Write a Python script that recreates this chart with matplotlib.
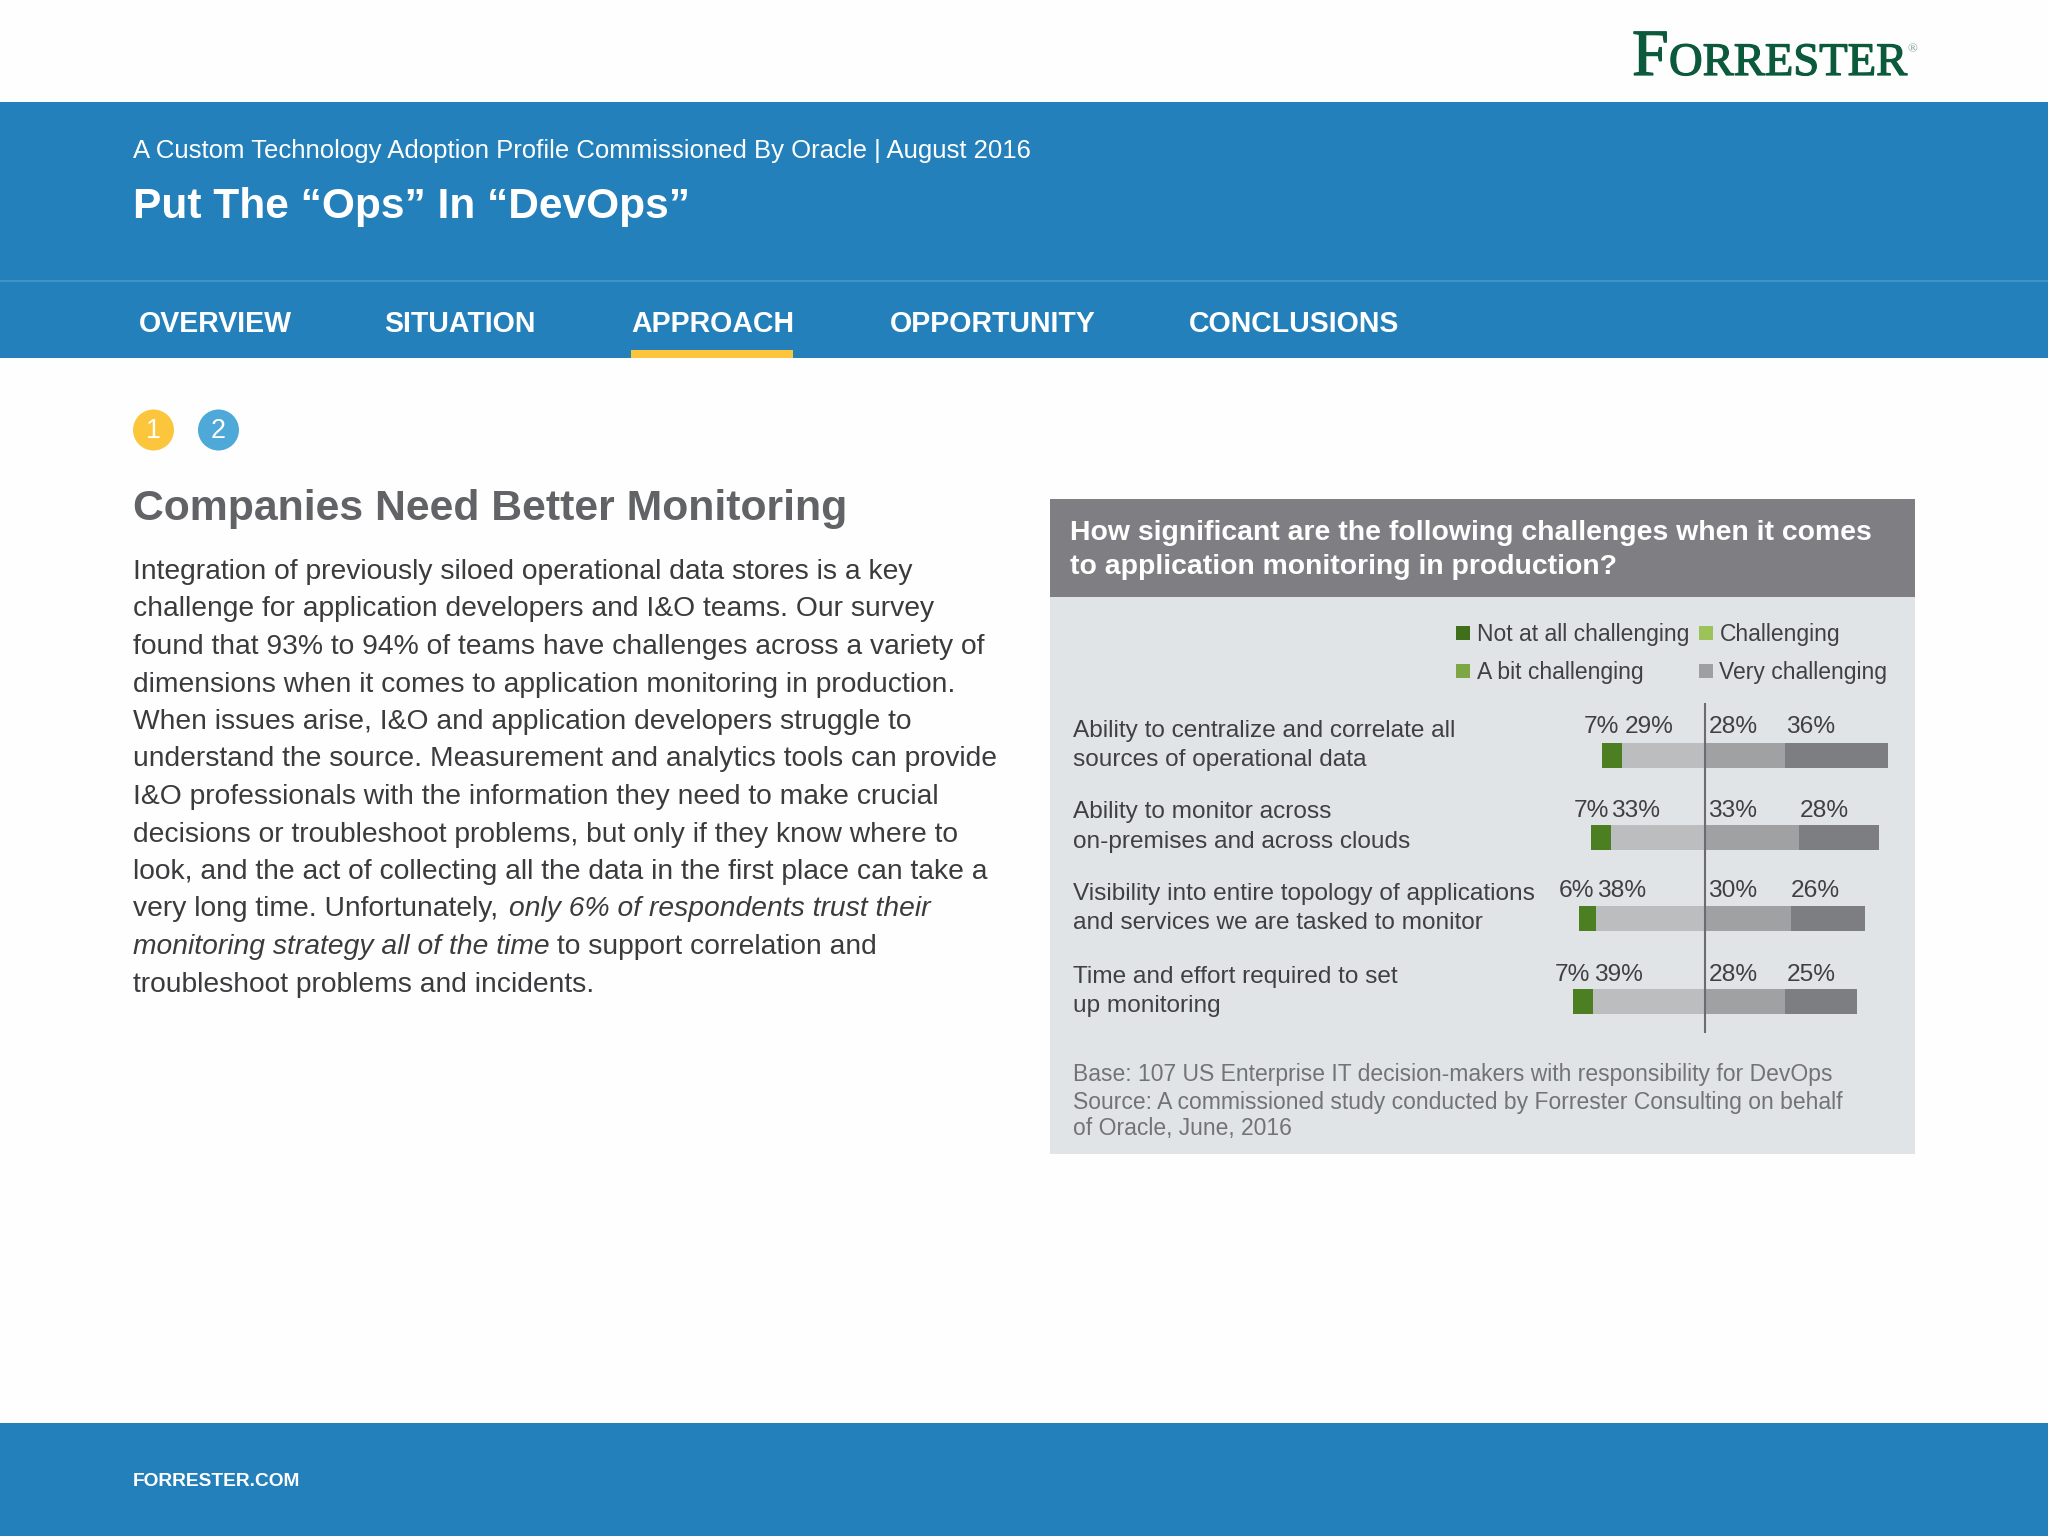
import matplotlib
matplotlib.use("Agg")
import matplotlib.pyplot as plt
import matplotlib.patheffects as pe
from matplotlib.patches import Rectangle, Circle, Patch

plt.rcParams['font.family'] = ['Liberation Sans', 'DejaVu Sans']

W, H = 2048, 1536

# chart data
categories = [
    "Ability to centralize and correlate all\nsources of operational data",
    "Ability to monitor across\non-premises and across clouds",
    "Visibility into entire topology of applications\nand services we are tasked to monitor",
    "Time and effort required to set\nup monitoring",
]
not_at_all = [7, 7, 6, 7]
a_bit = [29, 33, 38, 39]
challenging = [28, 33, 30, 28]
very = [36, 28, 26, 25]
legend_labels = ["Not at all challenging", "A bit challenging", "Challenging", "Very challenging"]

nav_items = ["OVERVIEW", "SITUATION", "APPROACH", "OPPORTUNITY", "CONCLUSIONS"]
body_lines = [
    "Integration of previously siloed operational data stores is a key",
    "challenge for application developers and I&O teams. Our survey",
    "found that 93% to 94% of teams have challenges across a variety of",
    "dimensions when it comes to application monitoring in production.",
    "When issues arise, I&O and application developers struggle to",
    "understand the source. Measurement and analytics tools can provide",
    "I&O professionals with the information they need to make crucial",
    "decisions or troubleshoot problems, but only if they know where to",
    "look, and the act of collecting all the data in the first place can take a",
]
footnote = [
    "Base: 107 US Enterprise IT decision-makers with responsibility for DevOps",
    "Source: A commissioned study conducted by Forrester Consulting on behalf",
    "of Oracle, June, 2016",
]

# label placement, hand set in the original (pixels)
nav_x = [139, 384, 631, 890, 1189]
row_y = [755, 837, 918, 1001]
label_y = [727, 811, 891, 975]
cat_y = [[731, 760], [812, 842], [894, 923], [977, 1006]]
label_x = [
    [1601, 1649, 1733, 1811],
    [1591, 1636, 1733, 1824],
    [1576, 1622, 1733, 1815],
    [1572, 1618, 1733, 1811],
]

BLUE = "#2380ba"
fig = plt.figure(figsize=(W / 100, H / 100), dpi=100, facecolor="#fefefe")

# page layer in pixel coordinates
page = fig.add_axes([0, 0, 1, 1])
page.set_xlim(0, W)
page.set_ylim(H, 0)
page.axis("off")


def rect(x0, y0, x1, y1, color, z=1):
    page.add_patch(Rectangle((x0, y0), x1 - x0, y1 - y0, fc=color, ec="none", zorder=z))


def txt(x, y, s, px, color="white", weight="normal", style="normal", ha="left", va="center", family=None):
    return page.text(x, y, s, fontsize=px * 0.72, color=color, weight=weight, style=style,
                     ha=ha, va=va, family=family, zorder=5)


rect(0, 102, W, 358, BLUE)
rect(0, 280, W, 281.5, "#3f93c9", 2)
rect(0, 1423, W, H, BLUE)

# logo
logo_green = "#0b5a3c"
serif = ["Liberation Serif", "DejaVu Serif"]
thicken = [pe.withStroke(linewidth=0.9, foreground=logo_green)]
txt(1632, 75, "F", 66, logo_green, va="baseline", family=serif).set_path_effects(thicken)
txt(1669, 75, "ORRESTER", 46.6, logo_green, va="baseline", family=serif).set_path_effects(thicken)
txt(1908, 49, "®", 13, "#7fa090", va="center", family=serif)

txt(133, 151, "A Custom Technology Adoption Profile Commissioned By Oracle | August 2016", 25.8)
txt(133, 207, "Put The “Ops” In “DevOps”", 42.5, weight="bold")

for x, s in zip(nav_x, nav_items):
    txt(x, 324, s, 28.5, weight="bold")
rect(631, 350, 793, 358, "#fdc53b", 3)

page.add_patch(Circle((153.5, 430), 20.5, fc="#fcc63c", ec="none"))
page.add_patch(Circle((218.5, 430), 20.5, fc="#4fa9d8", ec="none"))
txt(153.5, 431, "1", 27, ha="center")
txt(218.5, 431, "2", 27, ha="center")

txt(133, 509, "Companies Need Better Monitoring", 42.7, "#626366", weight="bold")

# body copy
BODY = "#3b3b3d"
base0 = 579
lead = 37.5
for i, line in enumerate(body_lines):
    txt(133, base0 + i * lead, line, 28.2, BODY, va="baseline")
txt(133, base0 + 9 * lead, "very long time. Unfortunately, ", 28.2, BODY, va="baseline")
txt(509, base0 + 9 * lead, "only 6% of respondents trust their", 28.2, BODY, style="italic", va="baseline")
txt(133, base0 + 10 * lead, "monitoring strategy all of the time", 28.2, BODY, style="italic", va="baseline")
txt(557, base0 + 10 * lead, "to support correlation and", 28.2, BODY, va="baseline")
txt(133, base0 + 11 * lead, "troubleshoot problems and incidents.", 28.2, BODY, va="baseline")

# survey panel
rect(1050, 499, 1915, 1154, "#e0e4e6")
rect(1050, 499, 1915, 597, "#7f7e82", 2)
txt(1070, 533, "How significant are the following challenges when it comes", 28.35, weight="bold")
txt(1070, 567, "to application monitoring in production?", 28.35, weight="bold")

for (y0, y1), cat in zip(cat_y, categories):
    l0, l1 = cat.split("\n")
    txt(1073, y0, l0, 24.4, "#404042")
    txt(1073, y1, l1, 24.4, "#404042")

for i, row in enumerate(label_x):
    vals = [not_at_all[i], a_bit[i], challenging[i], very[i]]
    for x, v in zip(row, vals):
        txt(x, label_y[i], f"{v}%", 24.5, "#404042", ha="center")

for i, line in enumerate(footnote):
    txt(1073, [1075, 1102, 1129][i], line, 22.9, "#727376")

# diverging bars, x in percent, zero at pixel 1705, 2.86 px per percent
zero_px, px_per = 1705, 2.86
left_px, right_px = 1560, 1900
bars = fig.add_axes([left_px / W, 1 - 1033 / H, (right_px - left_px) / W, (1033 - 703) / H])
bars.patch.set_alpha(0)
bars.set_xlim((left_px - zero_px) / px_per, (right_px - zero_px) / px_per)
bars.set_ylim(1033, 703)
bars.axis("off")

neg_start = [-(n + b) for n, b in zip(not_at_all, a_bit)]
neg_mid = [-b for b in a_bit]
bars.barh(row_y, not_at_all, left=neg_start, height=25, color="#4b7f21")
bars.barh(row_y, a_bit, left=neg_mid, height=25, color="#bcbdbf")
bars.barh(row_y, challenging, left=0, height=25, color="#9fa1a3")
bars.barh(row_y, very, left=challenging, height=25, color="#7d7e82")
bars.axvline(0, color="#6b6c70", lw=1.5)

handles = [Patch(fc=c, ec="none") for c in ["#3f6f1b", "#7fa644", "#9cc25a", "#9d9fa2"]]
fig.legend(handles, legend_labels, ncol=2, loc="upper left", frameon=False,
           bbox_to_anchor=(1456 / W, 1 - 623 / H), bbox_transform=fig.transFigure,
           fontsize=22.9 * 0.72, labelcolor="#404042", borderaxespad=0, borderpad=0,
           handlelength=0.6, handleheight=0.6, handletextpad=0.3,
           columnspacing=0.43, labelspacing=0.65)

# footer
txt(133, 1481, "FORRESTER.COM", 19.2, weight="bold")

fig.savefig("out.png", dpi=100, facecolor=fig.get_facecolor())
